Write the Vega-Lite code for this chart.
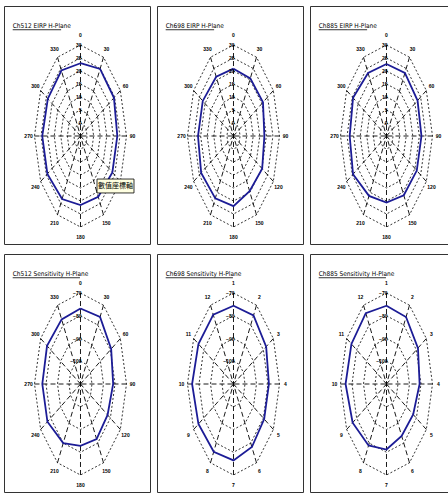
{
  "$schema": "https://vega.github.io/schema/vega-lite/v6.json",
  "padding": {"left": 3, "top": 5, "right": 0, "bottom": 0},
  "background": "white",
  "config": {
    "view": {"stroke": "#333", "strokeWidth": 1},
    "font": "Liberation Sans",
    "header": {"labels": false, "labelFontSize": 0, "labelPadding": 0, "titleFontSize": 0, "titlePadding": 0},
    "headerFacet": {"labels": false, "labelFontSize": 0, "labelPadding": 0, "titleFontSize": 0, "titlePadding": 0}
  },
  "data": {"values": [
    {"p":1,"k":"t","txt":"Ch512 EIRP H-Plane"},
    {"p":2,"k":"t","txt":"Ch698 EIRP H-Plane"},
    {"p":3,"k":"t","txt":"Ch885 EIRP H-Plane"},
    {"p":4,"k":"t","txt":"Ch512 Sensitivity H-Plane"},
    {"p":5,"k":"t","txt":"Ch698 Sensitivity H-Plane"},
    {"p":6,"k":"t","txt":"Ch885 Sensitivity H-Plane"},
    {"p":1,"k":"tip","txt":"數值座標軸"},
    {"p":1,"k":"s","a":[0,30,60,90,120,150,180,210,240,270,300,330],"lab":["0","30","60","90","120","150","180","210","240","270","300","330"]},
    {"p":2,"k":"s","a":[0,30,60,90,120,150,180,210,240,270,300,330],"lab":["0","30","60","90","120","150","180","210","240","270","300","330"]},
    {"p":3,"k":"s","a":[0,30,60,90,120,150,180,210,240,270,300,330],"lab":["0","30","60","90","120","150","180","210","240","270","300","330"]},
    {"p":4,"k":"s","a":[0,30,60,90,120,150,180,210,240,270,300,330],"lab":["0","30","60","90","120","150","180","210","240","270","300","330"]},
    {"p":5,"k":"s","a":[0,30,60,90,120,150,180,210,240,270,300,330],"lab":["1","2","3","4","5","6","7","8","9","10","11","12"]},
    {"p":6,"k":"s","a":[0,30,60,90,120,150,180,210,240,270,300,330],"lab":["1","2","3","4","5","6","7","8","9","10","11","12"]},
    {"p":1,"k":"g","lv":[0,5,10,15,20,25,30],"a":[0,30,60,90,120,150,180,210,240,270,300,330,360]},
    {"p":2,"k":"g","lv":[0,5,10,15,20,25,30],"a":[0,30,60,90,120,150,180,210,240,270,300,330,360]},
    {"p":3,"k":"g","lv":[0,5,10,15,20,25,30],"a":[0,30,60,90,120,150,180,210,240,270,300,330,360]},
    {"p":4,"k":"g","lv":[-100,-90,-80,-70],"a":[0,30,60,90,120,150,180,210,240,270,300,330,360]},
    {"p":5,"k":"g","lv":[-100,-90,-80,-70],"a":[0,30,60,90,120,150,180,210,240,270,300,330,360]},
    {"p":6,"k":"g","lv":[-100,-90,-80,-70],"a":[0,30,60,90,120,150,180,210,240,270,300,330,360]},
    {"p":1,"k":"d","a":0,"v":23.0},{"p":1,"k":"d","a":30,"v":24.8},{"p":1,"k":"d","a":60,"v":24.4},{"p":1,"k":"d","a":90,"v":23.0},{"p":1,"k":"d","a":120,"v":23.0},{"p":1,"k":"d","a":150,"v":22.0},{"p":1,"k":"d","a":180,"v":21.6},{"p":1,"k":"d","a":210,"v":23.0},{"p":1,"k":"d","a":240,"v":24.1},{"p":1,"k":"d","a":270,"v":24.1},{"p":1,"k":"d","a":300,"v":23.7},{"p":1,"k":"d","a":330,"v":24.1},{"p":1,"k":"d","a":360,"v":23.0},
    {"p":2,"k":"d","a":0,"v":20.9},{"p":2,"k":"d","a":30,"v":20.6},{"p":2,"k":"d","a":60,"v":20.9},{"p":2,"k":"d","a":90,"v":18.5},{"p":2,"k":"d","a":120,"v":20.2},{"p":2,"k":"d","a":150,"v":19.5},{"p":2,"k":"d","a":180,"v":22.0},{"p":2,"k":"d","a":210,"v":22.7},{"p":2,"k":"d","a":240,"v":23.4},{"p":2,"k":"d","a":270,"v":22.0},{"p":2,"k":"d","a":300,"v":22.0},{"p":2,"k":"d","a":330,"v":21.3},{"p":2,"k":"d","a":360,"v":20.9},
    {"p":3,"k":"d","a":0,"v":22.7},{"p":3,"k":"d","a":30,"v":23.0},{"p":3,"k":"d","a":60,"v":22.3},{"p":3,"k":"d","a":90,"v":21.6},{"p":3,"k":"d","a":120,"v":21.6},{"p":3,"k":"d","a":150,"v":21.3},{"p":3,"k":"d","a":180,"v":20.6},{"p":3,"k":"d","a":210,"v":21.6},{"p":3,"k":"d","a":240,"v":24.4},{"p":3,"k":"d","a":270,"v":23.0},{"p":3,"k":"d","a":300,"v":24.4},{"p":3,"k":"d","a":330,"v":23.0},{"p":3,"k":"d","a":360,"v":22.7},
    {"p":4,"k":"d","a":0,"v":-76.8},{"p":4,"k":"d","a":30,"v":-76.0},{"p":4,"k":"d","a":60,"v":-79.2},{"p":4,"k":"d","a":90,"v":-81.6},{"p":4,"k":"d","a":120,"v":-82.8},{"p":4,"k":"d","a":150,"v":-82.0},{"p":4,"k":"d","a":180,"v":-82.8},{"p":4,"k":"d","a":210,"v":-80.0},{"p":4,"k":"d","a":240,"v":-76.8},{"p":4,"k":"d","a":270,"v":-76.8},{"p":4,"k":"d","a":300,"v":-76.4},{"p":4,"k":"d","a":330,"v":-77.2},{"p":4,"k":"d","a":360,"v":-76.8},
    {"p":5,"k":"d","a":0,"v":-75.6},{"p":5,"k":"d","a":30,"v":-75.2},{"p":5,"k":"d","a":60,"v":-77.2},{"p":5,"k":"d","a":90,"v":-79.2},{"p":5,"k":"d","a":120,"v":-79.2},{"p":5,"k":"d","a":150,"v":-78.0},{"p":5,"k":"d","a":180,"v":-76.4},{"p":5,"k":"d","a":210,"v":-75.6},{"p":5,"k":"d","a":240,"v":-74.8},{"p":5,"k":"d","a":270,"v":-74.0},{"p":5,"k":"d","a":300,"v":-74.8},{"p":5,"k":"d","a":330,"v":-74.8},{"p":5,"k":"d","a":360,"v":-75.6},
    {"p":6,"k":"d","a":0,"v":-75.6},{"p":6,"k":"d","a":30,"v":-76.0},{"p":6,"k":"d","a":60,"v":-78.4},{"p":6,"k":"d","a":90,"v":-81.2},{"p":6,"k":"d","a":120,"v":-83.2},{"p":6,"k":"d","a":150,"v":-83.6},{"p":6,"k":"d","a":180,"v":-81.2},{"p":6,"k":"d","a":210,"v":-78.8},{"p":6,"k":"d","a":240,"v":-76.0},{"p":6,"k":"d","a":270,"v":-74.4},{"p":6,"k":"d","a":300,"v":-74.8},{"p":6,"k":"d","a":330,"v":-74.0},{"p":6,"k":"d","a":360,"v":-75.6}
  ]},
  "facet": {"field": "p", "type": "ordinal", "title": null, "header": {"labels": false, "labelExpr": "''", "labelFontSize": 0, "labelPadding": 0, "title": null}},
  "columns": 3,
  "spacing": {"row": 8, "column": 5},
  "resolve": {"scale": {"x": "shared", "y": "shared"}},
  "spec": {
    "width": 146,
    "height": 238,
    "layer": [
      {
        "transform": [
          {"filter": "datum.k=='s'"},
          {"flatten": ["a", "lab"]},
          {"calculate": "sin(datum.a*PI/180)", "as": "x"},
          {"calculate": "cos(datum.a*PI/180)", "as": "y"},
          {"calculate": "0", "as": "o"}
        ],
        "mark": {"type": "rule", "strokeDash": [5, 3], "color": "#000", "strokeWidth": 0.9},
        "encoding": {
          "x": {"field": "x", "type": "quantitative", "scale": {"domain": [-1.663, 1.511], "nice": false, "zero": false}, "axis": null},
          "y": {"field": "y", "type": "quantitative", "scale": {"domain": [-1.187, 1.429], "nice": false, "zero": false}, "axis": null},
          "x2": {"field": "o"},
          "y2": {"field": "o"}
        }
      },
      {
        "transform": [
          {"filter": "datum.k=='g'"},
          {"flatten": ["lv"]},
          {"flatten": ["a"]},
          {"calculate": "datum.p<=3?(datum.lv+5)/35:(datum.lv+110)/40", "as": "r"},
          {"calculate": "datum.r*sin(datum.a*PI/180)", "as": "x"},
          {"calculate": "datum.r*cos(datum.a*PI/180)", "as": "y"}
        ],
        "mark": {"type": "line", "strokeDash": [2, 2], "color": "#000", "strokeWidth": 0.8},
        "encoding": {
          "x": {"field": "x", "type": "quantitative", "scale": {"domain": [-1.663, 1.511], "nice": false, "zero": false}, "axis": null},
          "y": {"field": "y", "type": "quantitative", "scale": {"domain": [-1.187, 1.429], "nice": false, "zero": false}, "axis": null},
          "detail": {"field": "lv", "type": "nominal"},
          "order": {"field": "a", "type": "quantitative"}
        }
      },
      {
        "transform": [
          {"filter": "datum.k=='d'"},
          {"calculate": "datum.p<=3?(datum.v+5)/35:(datum.v+110)/40", "as": "r"},
          {"calculate": "datum.r*sin(datum.a*PI/180)", "as": "x"},
          {"calculate": "datum.r*cos(datum.a*PI/180)", "as": "y"}
        ],
        "mark": {"type": "line", "color": "#1c1c96", "strokeWidth": 1.8},
        "encoding": {
          "x": {"field": "x", "type": "quantitative", "scale": {"domain": [-1.663, 1.511], "nice": false, "zero": false}, "axis": null},
          "y": {"field": "y", "type": "quantitative", "scale": {"domain": [-1.187, 1.429], "nice": false, "zero": false}, "axis": null},
          "order": {"field": "a", "type": "quantitative"}
        }
      },
      {
        "transform": [
          {"filter": "datum.k=='s'"},
          {"flatten": ["a", "lab"]},
          {"calculate": "1.13*sin(datum.a*PI/180)", "as": "x"},
          {"calculate": "1.11*cos(datum.a*PI/180)", "as": "y"}
        ],
        "mark": {"type": "text", "fontSize": 5, "fontWeight": "bold", "color": "#000", "baseline": "middle", "align": "center"},
        "encoding": {
          "x": {"field": "x", "type": "quantitative", "scale": {"domain": [-1.663, 1.511], "nice": false, "zero": false}, "axis": null},
          "y": {"field": "y", "type": "quantitative", "scale": {"domain": [-1.187, 1.429], "nice": false, "zero": false}, "axis": null},
          "text": {"field": "lab", "type": "nominal"}
        }
      },
      {
        "transform": [
          {"filter": "datum.k=='g'"},
          {"flatten": ["lv"]},
          {"calculate": "datum.p<=3?(datum.lv+5)/35:(datum.lv+110)/40", "as": "r"},
          {"calculate": "0", "as": "x"}
        ],
        "mark": {"type": "text", "fontSize": 5, "fontWeight": "bold", "color": "#000", "baseline": "middle", "align": "right", "dx": 1},
        "encoding": {
          "x": {"field": "x", "type": "quantitative", "scale": {"domain": [-1.663, 1.511], "nice": false, "zero": false}, "axis": null},
          "y": {"field": "r", "type": "quantitative", "scale": {"domain": [-1.187, 1.429], "nice": false, "zero": false}, "axis": null},
          "text": {"field": "lv", "type": "quantitative", "format": "d"}
        }
      },
      {
        "transform": [
          {"filter": "datum.k=='t'"},
          {"calculate": "-1.474", "as": "x"},
          {"calculate": "1.187", "as": "y"}
        ],
        "mark": {"type": "text", "fontSize": 6.5, "font": "Liberation Sans Narrow, DejaVu Sans Condensed, Liberation Sans", "color": "#000", "align": "left", "baseline": "alphabetic"},
        "encoding": {
          "x": {"field": "x", "type": "quantitative", "scale": {"domain": [-1.663, 1.511], "nice": false, "zero": false}, "axis": null},
          "y": {"field": "y", "type": "quantitative", "scale": {"domain": [-1.187, 1.429], "nice": false, "zero": false}, "axis": null},
          "text": {"field": "txt", "type": "nominal"}
        }
      },
      {
        "transform": [
          {"filter": "datum.k=='t'"},
          {"calculate": "-1.474", "as": "x"},
          {"calculate": "-1.474+length(datum.txt)*0.0585", "as": "ux2"},
          {"calculate": "1.168", "as": "y"}
        ],
        "mark": {"type": "rule", "color": "#000", "strokeWidth": 0.8},
        "encoding": {
          "x": {"field": "x", "type": "quantitative", "scale": {"domain": [-1.663, 1.511], "nice": false, "zero": false}, "axis": null},
          "x2": {"field": "ux2"},
          "y": {"field": "y", "type": "quantitative", "scale": {"domain": [-1.187, 1.429], "nice": false, "zero": false}, "axis": null}
        }
      },
      {
        "transform": [
          {"filter": "datum.k=='tip'"},
          {"calculate": "0.359", "as": "x"},
          {"calculate": "1.163", "as": "x2"},
          {"calculate": "-0.473", "as": "y"},
          {"calculate": "-0.626", "as": "y2"}
        ],
        "mark": {"type": "rect", "fill": "#ffffe1", "stroke": "#000", "strokeWidth": 0.8},
        "encoding": {
          "x": {"field": "x", "type": "quantitative", "scale": {"domain": [-1.663, 1.511], "nice": false, "zero": false}, "axis": null},
          "x2": {"field": "x2"},
          "y": {"field": "y", "type": "quantitative", "scale": {"domain": [-1.187, 1.429], "nice": false, "zero": false}, "axis": null},
          "y2": {"field": "y2"}
        }
      },
      {
        "transform": [
          {"filter": "datum.k=='tip'"},
          {"calculate": "0.761", "as": "x"},
          {"calculate": "-0.549", "as": "y"}
        ],
        "mark": {"type": "text", "fontSize": 7, "font": "Noto Sans CJK TC", "color": "#000", "align": "center", "baseline": "middle"},
        "encoding": {
          "x": {"field": "x", "type": "quantitative", "scale": {"domain": [-1.663, 1.511], "nice": false, "zero": false}, "axis": null},
          "y": {"field": "y", "type": "quantitative", "scale": {"domain": [-1.187, 1.429], "nice": false, "zero": false}, "axis": null},
          "text": {"field": "txt", "type": "nominal"}
        }
      }
    ]
  }
}
